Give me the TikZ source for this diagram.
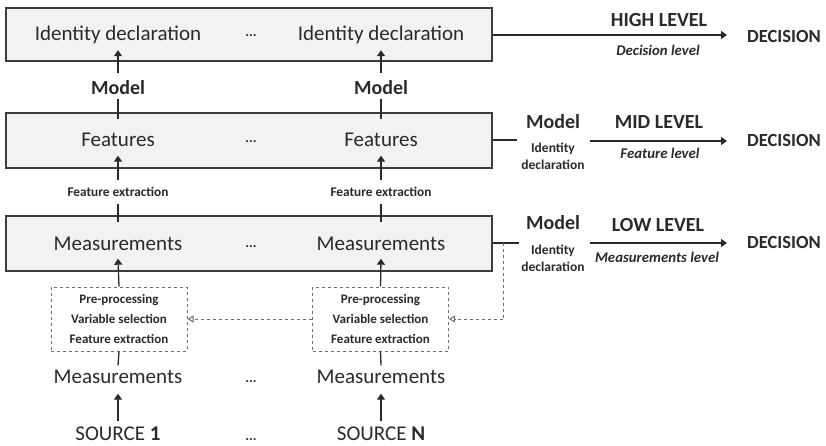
\documentclass[tikz,border=0pt]{standalone}
\usepackage{fontspec}
\setmainfont{Carlito}
\usetikzlibrary{arrows.meta}
\definecolor{ink}{HTML}{2A2A2A}
\definecolor{boxfill}{HTML}{F2F2F2}
\definecolor{boxline}{HTML}{3C3C3C}
\definecolor{dashc}{HTML}{6E6E6E}
\tikzset{
  bigbox/.style={draw=boxline, line width=1.8pt, fill=boxfill, minimum width=486pt, inner sep=0pt},
  boxtxt/.style={text=ink, font=\fontsize{21}{23}\selectfont, inner sep=1pt, text height=15pt, text depth=4pt},
  srctxt/.style={text=ink, font=\fontsize{21}{23}\selectfont, inner sep=1pt, text height=15pt, text depth=0pt},
  dots/.style={text=ink, font=\fontsize{14}{14}\selectfont\bfseries, inner sep=0pt, anchor=base},
  midtxt/.style={text=ink, font=\fontsize{20}{22}\selectfont\bfseries, inner sep=1pt},
  lvltxt/.style={text=ink, font=\fontsize{20}{22}\selectfont\bfseries, inner sep=1pt},
  dectxt/.style={text=ink, font=\fontsize{18.5}{20}\selectfont\bfseries, inner sep=1pt, anchor=west},
  smalltxt/.style={text=ink, font=\fontsize{13.3}{15}\selectfont\bfseries, inner sep=1pt},
  idtxt/.style={text=ink, align=center, font=\fontsize{13.5}{17}\selectfont\bfseries, inner sep=1pt},
  itxt/.style={text=ink, font=\fontsize{14.8}{16}\selectfont\bfseries\itshape, inner sep=1pt},
  dbox/.style={draw=dashc, dashed, line width=1pt, minimum width=136pt, minimum height=64pt, align=center, text=ink, font=\fontsize{13}{20}\selectfont\bfseries, inner sep=0pt},
  arr/.style={draw=ink, line width=1.3pt, -{Triangle[length=6pt,width=8pt]}},
  ln/.style={draw=ink, line width=1.3pt},
  darr/.style={draw=dashc, dashed, line width=1pt, -{Triangle[open,length=6pt,width=7pt]}},
  dln/.style={draw=dashc, dashed, line width=1pt},
}
\begin{document}
\begin{tikzpicture}[x=1pt,y=-1pt]
\useasboundingbox (0,0) rectangle (826,446);
% boxes
\node[bigbox, minimum height=53pt] (box1) at (249,34.5) {};
\node[bigbox, minimum height=55pt] (box2) at (249,140.5) {};
\node[bigbox, minimum height=55pt] (box3) at (249,243.5) {};
% top row
\node[boxtxt] (id1) at (118,35) {Identity declaration};
\node[boxtxt] (id2) at (381,35) {Identity declaration};
\node[dots] (d1) at (251,37) {...};
\node[midtxt] (m1) at (118,88) {Model};
\node[midtxt] (m2) at (381,88) {Model};
% features
\node[boxtxt] (f1) at (118,141) {Features};
\node[boxtxt] (f2) at (381,141) {Features};
\node[dots] (d2) at (251,143) {...};
\node[smalltxt] (fe1) at (118,192) {Feature extraction};
\node[smalltxt] (fe2) at (381,192) {Feature extraction};
% measurements
\node[boxtxt] (ms1) at (118,245) {Measurements};
\node[boxtxt] (ms2) at (381,245) {Measurements};
\node[dots] (d3) at (251,247) {...};
% dashed boxes
\node[dbox] (pp1) at (119,319) {Pre-processing\\Variable selection\\Feature extraction};
\node[dbox] (pp2) at (380.5,319) {Pre-processing\\Variable selection\\Feature extraction};
% bottom
\node[boxtxt] (bm1) at (118,378) {Measurements};
\node[boxtxt] (bm2) at (381,378) {Measurements};
\node[dots] (d4) at (251,382) {...};
\node[srctxt] (s1) at (118,433) {SOURCE \textbf{1}};
\node[srctxt] (s2) at (381,433) {SOURCE \textbf{N}};
\node[dots] (d5) at (251,440) {...};
% vertical connectors
\draw[arr] ([yshift=7pt]m1.north) -- ([yshift=-4.5pt]id1.south);
\draw[arr] ([yshift=7pt]m2.north) -- ([yshift=-4.5pt]id2.south);
\draw[ln] ([yshift=-3pt]m1.south) -- ([yshift=-7pt]m1.south |- box2.north);
\draw[ln] ([yshift=-3pt]m2.south) -- ([yshift=-7pt]m2.south |- box2.north);
\draw[arr] ([yshift=6pt]fe1.north) -- ([yshift=-4pt]f1.south);
\draw[arr] ([yshift=6pt]fe2.north) -- ([yshift=-4pt]f2.south);
\draw[ln] ([yshift=-6pt]fe1.south) -- ([yshift=-7pt]fe1.south |- box3.north);
\draw[ln] ([yshift=-6pt]fe2.south) -- ([yshift=-7pt]fe2.south |- box3.north);
\draw[arr] (pp1.north) -- ([yshift=-3pt]ms1.south);
\draw[arr] (pp2.north) -- ([yshift=-3pt]ms2.south);
\draw[ln] (pp1.south) -- ([yshift=2pt]bm1.north);
\draw[ln] (pp2.south) -- ([yshift=2pt]bm2.north);
\draw[arr] ([yshift=3pt]s1.north) -- ([yshift=-5pt]bm1.south);
\draw[arr] ([yshift=3pt]s2.north) -- ([yshift=-5pt]bm2.south);
% right side: high level
\node[dectxt] (dec1) at (746,37) {DECISION};
\node[lvltxt] (hl) at (659,20) {HIGH LEVEL};
\node[itxt] (hll) at (658,50) {Decision level};
\draw[arr] (box1.east |- 0,35) -- ([xshift=-19pt,yshift=2pt]dec1.west);
% mid level
\node[dectxt] (dec2) at (746,140) {DECISION};
\node[midtxt] (mm) at (553,122) {Model};
\node[idtxt] (mid) at (553,156.5) {Identity\\declaration};
\node[lvltxt] (ml) at (659,122) {MID LEVEL};
\node[itxt] (mll) at (660,153) {Feature level};
\coordinate (mstub) at (517,140);
\draw[ln] (box2.east |- mstub) -- (mstub);
\coordinate (marr) at (590,141);
\draw[arr] (marr) -- ([xshift=-19pt,yshift=-1pt]dec2.west);
% low level
\node[dectxt] (dec3) at (746,242) {DECISION};
\node[midtxt] (lm) at (553,223) {Model};
\node[idtxt] (lid) at (553,258.5) {Identity\\declaration};
\node[lvltxt] (ll) at (658,225) {LOW LEVEL};
\node[itxt] (lll) at (657,257) {Measurements level};
\coordinate (lstub) at (519,243);
\draw[ln] (box3.east |- lstub) -- (lstub);
\coordinate (larr) at (590,243);
\draw[arr] (larr) -- ([xshift=-19pt,yshift=-1pt]dec3.west);
% dashed feedback
\coordinate (fbtop) at (503,243);
\coordinate (fbbot) at (503,319);
\draw[dln] (fbtop) -- (fbbot);
\draw[darr] (fbbot) -- (pp2.east);
\draw[darr] (pp2.west) -- (pp1.east);
\end{tikzpicture}
\end{document}
